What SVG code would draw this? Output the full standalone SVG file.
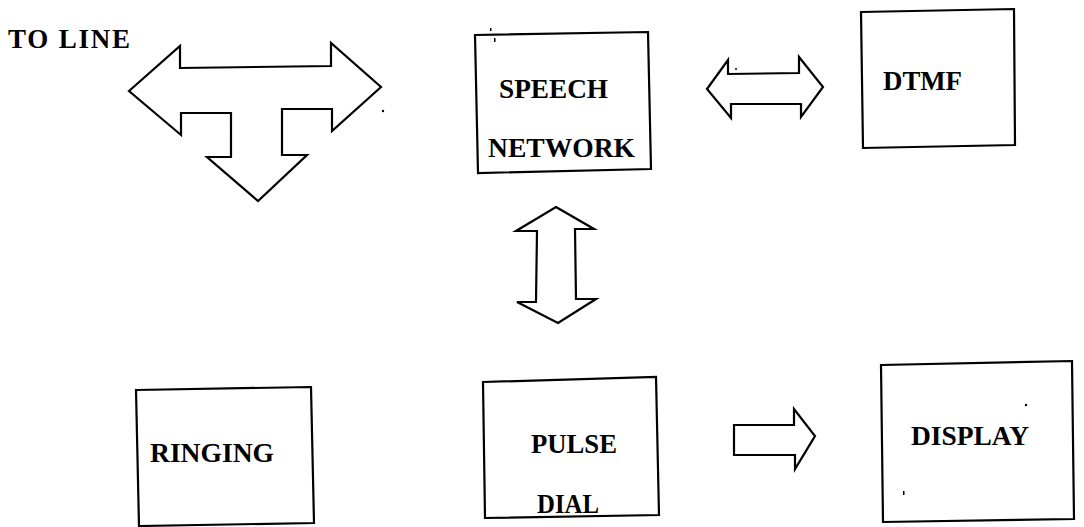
<svg xmlns="http://www.w3.org/2000/svg" width="1084" height="527" viewBox="0 0 1084 527">
<style>
.box{fill:#fff;stroke:#000;stroke-width:2.2;stroke-linejoin:miter}
.arr{fill:#fff;stroke:#000;stroke-width:2.2;stroke-linejoin:miter}
.t{font-family:"Liberation Serif","Times New Roman",serif;font-weight:bold;font-size:27px;fill:#000}
.speck{fill:#000}
</style>
<rect width="1084" height="527" fill="#fff"/>
<text class="t" x="8" y="48" textLength="122" lengthAdjust="spacing">TO LINE</text>
<g id="connectors">
<polygon id="to-line-tee" class="arr" points="129,91 180,46 180,68 331,66 331,43 381,87 332,131 332,109 282,109 282,155 307,155 258,201 207,157 231,157 231,113 181,113 181,135"/>
<polygon id="speech-dtmf" class="arr" points="707,89 728,60 728,74 799,73 799,57 823,87 801,117 801,104 731,104 731,118"/>
<polygon id="speech-pulse" class="arr" points="556,207 594,229 575,229 576,299 596,299 558,323 517,302 536,302 537,231 516,231"/>
<polygon id="pulse-display" class="arr" points="734,425 794,425 794,409 815,436 795,469 795,455 734,455"/>
</g>
<g id="speech-network">
<polygon class="box" points="475,35 648,32 651,169 478,173"/>
<text class="t" x="499" y="98" textLength="109" lengthAdjust="spacingAndGlyphs">SPEECH</text>
<text class="t" x="488" y="157" textLength="147" lengthAdjust="spacingAndGlyphs">NETWORK</text>
</g>
<g id="dtmf">
<polygon class="box" points="861,12 1014,9 1015,145 863,148"/>
<text class="t" x="883" y="90" textLength="79" lengthAdjust="spacingAndGlyphs">DTMF</text>
</g>
<g id="ringing">
<polygon class="box" points="136,390 311,387 314,523 139,526"/>
<text class="t" x="150" y="462" textLength="124" lengthAdjust="spacingAndGlyphs">RINGING</text>
</g>
<g id="pulse-dial">
<polygon class="box" points="483,382 656,377 659,515 485,518"/>
<text class="t" x="531" y="453" textLength="86" lengthAdjust="spacingAndGlyphs">PULSE</text>
<text class="t" x="537" y="513" textLength="62" lengthAdjust="spacingAndGlyphs">DIAL</text>
</g>
<g id="display">
<polygon class="box" points="881,365 1072,361 1074,519 883,522"/>
<text class="t" x="911" y="445" textLength="118" lengthAdjust="spacingAndGlyphs">DISPLAY</text>
</g>
<g id="specks">
<rect class="speck" x="490" y="28" width="1.5" height="3"/>
<rect class="speck" x="494" y="38" width="1.5" height="4"/>
<circle class="speck" cx="383" cy="111" r="1.2"/>
<circle class="speck" cx="736" cy="69" r="1"/>
<circle class="speck" cx="1026" cy="405" r="1.2"/>
<rect class="speck" x="903" y="491" width="1.5" height="4"/>
</g>
</svg>
